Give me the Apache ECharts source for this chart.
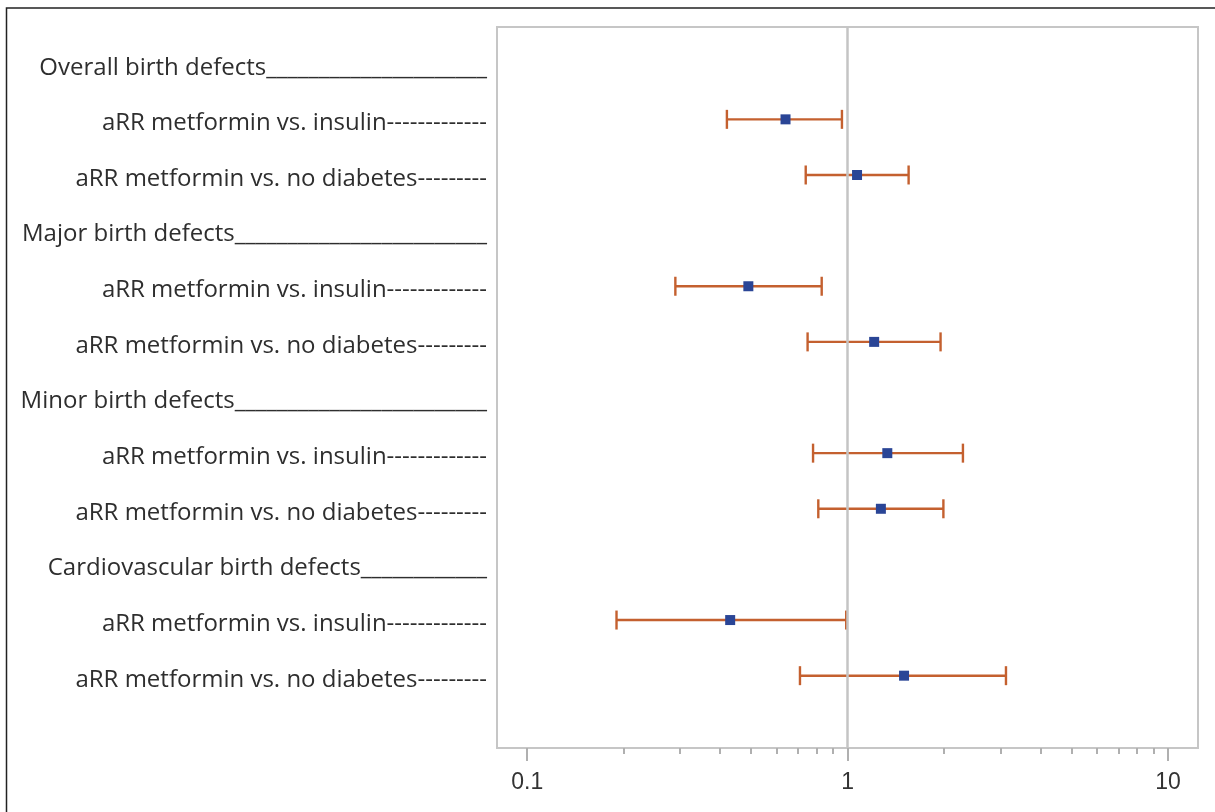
<!DOCTYPE html>
<html>
<head>
<meta charset="utf-8">
<script src="https://cdn.jsdelivr.net/npm/echarts@6/dist/echarts.min.js"></script>
<style>
html,body{margin:0;padding:0;background:#fff;}
#chart{width:1215px;height:812px;}
</style>
</head>
<body>
<div id="chart"></div>
<script>
// Row labels (top to bottom)
const rowLabels = [
  'Overall birth defects_____________________',
  'aRR metformin vs. insulin-------------',
  'aRR metformin vs. no diabetes---------',
  'Major birth defects________________________',
  'aRR metformin vs. insulin-------------',
  'aRR metformin vs. no diabetes---------',
  'Minor birth defects________________________',
  'aRR metformin vs. insulin-------------',
  'aRR metformin vs. no diabetes---------',
  'Cardiovascular birth defects____________',
  'aRR metformin vs. insulin-------------',
  'aRR metformin vs. no diabetes---------'
];
// adjusted risk ratios and 95% CI (null for header rows)
const estimates = [null, 0.64, 1.07, null, 0.49, 1.21, null, 1.33, 1.27, null, 0.43, 1.50];
const lowerCI   = [null, 0.42, 0.74, null, 0.29, 0.75, null, 0.78, 0.81, null, 0.19, 0.71];
const upperCI   = [null, 0.96, 1.55, null, 0.83, 1.95, null, 2.29, 1.99, null, 0.99, 3.12];
const majorTicks = [0.1, 1, 10];
const minorTicks = [0.2, 0.3, 0.4, 0.5, 0.6, 0.7, 0.8, 0.9, 2, 3, 4, 5, 6, 7, 8, 9];

const rows = rowLabels.map((_, i) => i + 1);
const pointData = [];
const barData = [];
rows.forEach((r, i) => {
  if (estimates[i] != null) {
    pointData.push([estimates[i], r]);
    barData.push([lowerCI[i], upperCI[i], r]);
  }
});

const chart = echarts.init(document.getElementById('chart'));
const fontFam = '"Open Sans", "DejaVu Sans", sans-serif';
chart.setOption({
  animation: false,
  backgroundColor: '#ffffff',
  grid: {
    left: 497, right: 17, top: 27, bottom: 64,
    show: true, borderColor: '#c6c6c6', borderWidth: 2, backgroundColor: 'transparent'
  },
  xAxis: [{
    type: 'log', logBase: 10, min: 0.0805, max: 12.4,
    position: 'bottom',
    axisLine: { show: false },
    splitLine: { show: false },
    axisTick: { show: true, customValues: majorTicks, length: 13, lineStyle: { color: '#b0b0b0', width: 2 } },
    axisLabel: {
      customValues: majorTicks, margin: 23,
      fontSize: 23, color: '#333', fontFamily: '"Liberation Sans", Arial, sans-serif',
      formatter: v => String(+v)
    }
  }, {
    type: 'log', logBase: 10, min: 0.0805, max: 12.4,
    position: 'bottom', offset: 0,
    axisLine: { show: false },
    splitLine: { show: false },
    axisTick: { show: true, customValues: minorTicks, length: 6, lineStyle: { color: '#b0b0b0', width: 2 } },
    axisLabel: { show: false }
  }],
  yAxis: {
    type: 'value', inverse: true, min: 0.34, max: 13.3,
    axisLine: { show: false }, axisTick: { show: false }, splitLine: { show: false },
    axisLabel: {
      customValues: rows, margin: 10,
      fontSize: 24, color: '#2e2e2e', fontFamily: fontFam,
      verticalAlign: 'top', lineHeight: 8,
      formatter: v => rowLabels[Math.round(v) - 1] || ''
    }
  },
  series: [{
    type: 'custom',
    xAxisIndex: 0,
    encode: { x: [0, 1], y: 2 },
    data: barData,
    z: 3,
    renderItem: function (params, api) {
      const r = api.value(2);
      const p1 = api.coord([api.value(0), r]);
      const p2 = api.coord([api.value(1), r]);
      const h = 9.5;
      const style = { stroke: '#c4602f', lineWidth: 2.4 };
      return {
        type: 'group',
        children: [
          { type: 'line', shape: { x1: p1[0], y1: p1[1], x2: p2[0], y2: p2[1] }, style: style },
          { type: 'line', shape: { x1: p1[0], y1: p1[1] - h, x2: p1[0], y2: p1[1] + h }, style: style },
          { type: 'line', shape: { x1: p2[0], y1: p2[1] - h, x2: p2[0], y2: p2[1] + h }, style: style }
        ]
      };
    }
  }, {
    type: 'scatter',
    xAxisIndex: 0,
    data: pointData,
    symbol: 'rect',
    symbolSize: 10,
    z: 5,
    itemStyle: { color: '#2a4596', opacity: 1 },
    markLine: {
      silent: true, symbol: 'none', z: 4,
      label: { show: false },
      lineStyle: { color: '#c4c4c4', width: 2.5, type: 'solid' },
      data: [{ xAxis: 1 }]
    }
  }],
  graphic: [{
    type: 'rect', silent: true, z: 100,
    shape: { x: 6.5, y: 8, width: 1400, height: 1000 },
    style: { fill: 'none', stroke: '#222', lineWidth: 1.5 }
  }]
});
</script>
</body>
</html>
